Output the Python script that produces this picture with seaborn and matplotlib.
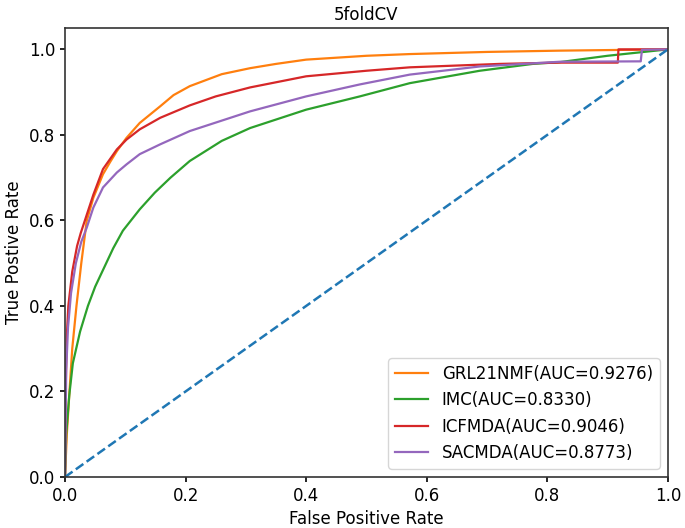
import matplotlib
matplotlib.use("Agg")
import matplotlib.pyplot as plt
import seaborn as sns
import pandas as pd

title = "5foldCV"
labels = ["GRL21NMF(AUC=0.9276)", "IMC(AUC=0.8330)", "ICFMDA(AUC=0.9046)", "SACMDA(AUC=0.8773)"]
colors = ["#ff7f0e", "#2ca02c", "#d62728", "#9467bd"]

grl_fpr = [0, 0.003, 0.007, 0.012, 0.019, 0.027, 0.036, 0.047, 0.063, 0.075, 0.086, 0.102, 0.124, 0.158, 0.18, 0.207, 0.26, 0.307, 0.35, 0.40, 0.50, 0.572, 0.70, 0.82, 1.0]
grl_tpr = [0, 0.10, 0.19, 0.30, 0.40, 0.50, 0.599, 0.653, 0.708, 0.737, 0.762, 0.793, 0.828, 0.867, 0.893, 0.914, 0.942, 0.956, 0.966, 0.976, 0.985, 0.989, 0.994, 0.997, 1.0]

imc_fpr = [0, 0.002, 0.007, 0.013, 0.025, 0.038, 0.05, 0.065, 0.08, 0.096, 0.124, 0.149, 0.175, 0.207, 0.26, 0.307, 0.40, 0.489, 0.572, 0.688, 0.776, 0.82, 0.90, 1.0]
imc_tpr = [0, 0.10, 0.19, 0.266, 0.34, 0.40, 0.445, 0.49, 0.535, 0.576, 0.626, 0.665, 0.70, 0.739, 0.786, 0.816, 0.859, 0.89, 0.921, 0.95, 0.966, 0.97, 0.985, 1.0]

icf_fpr = [0, 0.001, 0.003, 0.0055, 0.012, 0.02, 0.026, 0.033, 0.047, 0.063, 0.086, 0.102, 0.124, 0.158, 0.207, 0.25, 0.307, 0.40, 0.50, 0.572, 0.721, 0.82, 0.917, 0.918, 1.0]
icf_tpr = [0, 0.20, 0.33, 0.40, 0.48, 0.54, 0.57, 0.60, 0.66, 0.72, 0.766, 0.789, 0.813, 0.84, 0.869, 0.89, 0.911, 0.937, 0.95, 0.958, 0.966, 0.969, 0.969, 1.0, 1.0]

sac_fpr = [0, 0.002, 0.005, 0.01, 0.018, 0.027, 0.036, 0.047, 0.063, 0.086, 0.102, 0.124, 0.158, 0.207, 0.307, 0.40, 0.489, 0.572, 0.688, 0.82, 0.955, 0.957, 1.0]
sac_tpr = [0, 0.25, 0.35, 0.43, 0.50, 0.55, 0.583, 0.63, 0.677, 0.712, 0.731, 0.755, 0.778, 0.809, 0.855, 0.89, 0.918, 0.941, 0.96, 0.971, 0.972, 0.999, 1.0]

diag = [0.0, 1.0]

series = [(grl_fpr, grl_tpr), (imc_fpr, imc_tpr), (icf_fpr, icf_tpr), (sac_fpr, sac_tpr)]

fig = plt.figure(figsize=(6.85, 5.28), dpi=100)
ax = fig.add_axes([0.0949, 0.0966, 0.8801, 0.8504])

for (fx, ty), lab, col in zip(series, labels, colors):
    df = pd.DataFrame({"fpr": fx, "tpr": ty})
    sns.lineplot(data=df, x="fpr", y="tpr", ax=ax, color=col, label=lab,
                 sort=False, estimator=None, linewidth=1.6)

sns.lineplot(x=diag, y=diag, ax=ax, color="#1f77b4", linestyle="--", linewidth=1.8,
             sort=False, estimator=None)

ax.set_xlim(0, 1)
ax.set_ylim(0, 1.05)
ax.set_xticks([0, 0.2, 0.4, 0.6, 0.8, 1.0])
ax.set_yticks([0, 0.2, 0.4, 0.6, 0.8, 1.0])
ax.set_xlabel("False Positive Rate", fontsize=12)
ax.set_ylabel("True Postive Rate", fontsize=12)
ax.set_title(title, fontsize=12)
ax.tick_params(labelsize=12, width=1.2)
for s in ax.spines.values():
    s.set_color("#333333")
    s.set_linewidth(1.2)
ax.legend(loc="lower right", fontsize=12)

fig.savefig("out.png", dpi=100)
